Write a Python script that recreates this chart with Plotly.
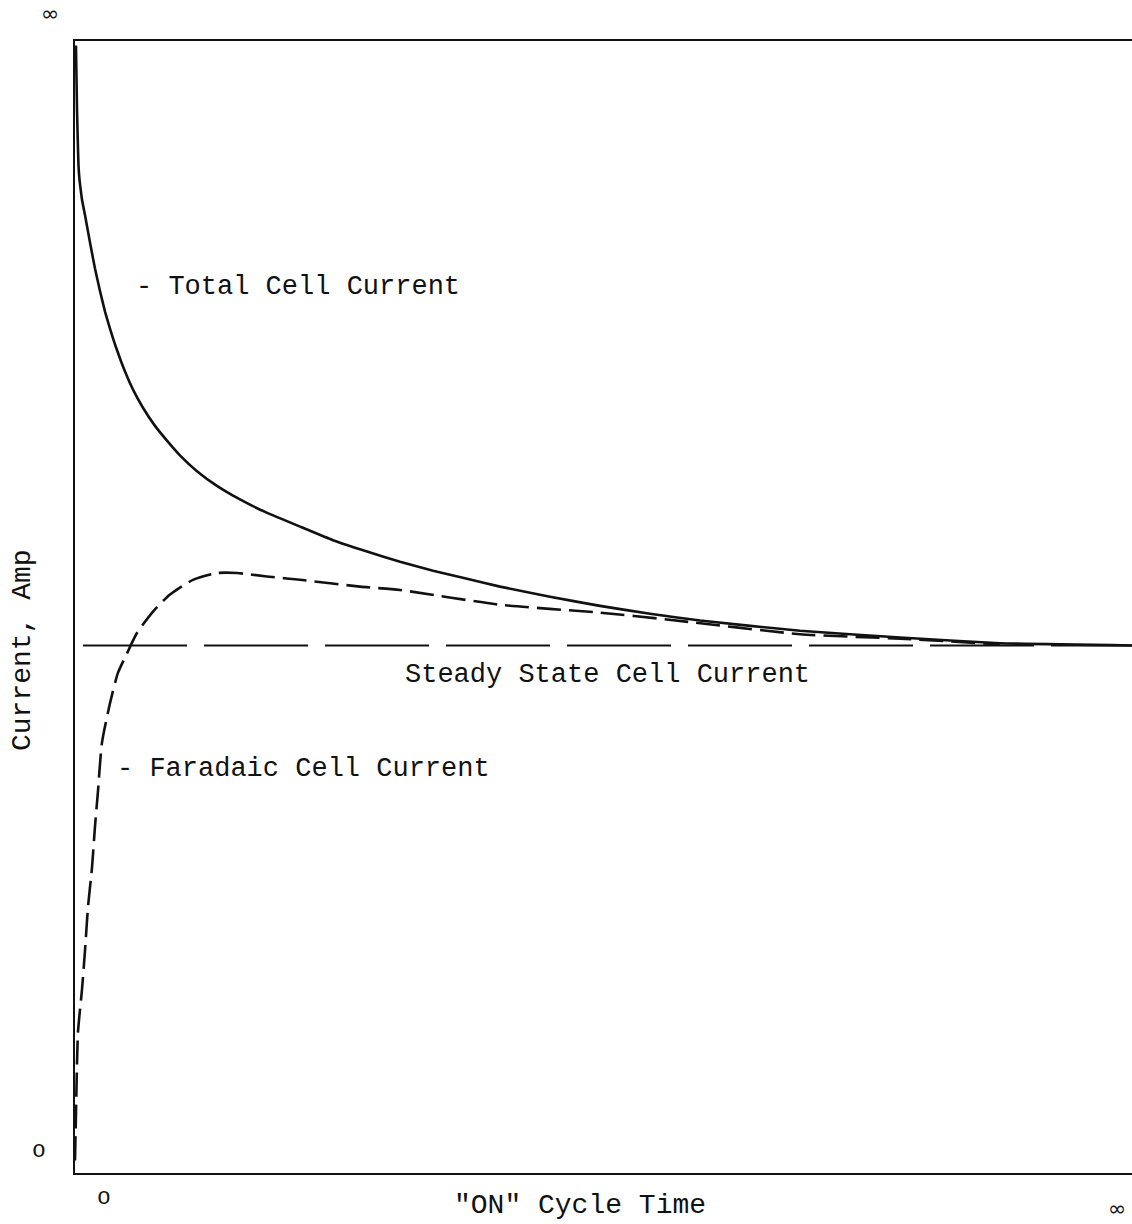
import plotly.graph_objects as go

# "ON" cycle time (arbitrary units, 0 at switch-on, 100 ~ long time)
total_time = [0.09, 0.19, 0.26, 0.33, 0.43, 0.52, 0.66, 0.95, 1.42, 1.89, 2.37,
              2.84, 3.31, 3.97, 4.73, 5.49, 6.43, 7.57, 8.70, 9.93, 11.54, 13.43,
              15.61, 17.98, 21.29, 24.41, 27.63, 30.75, 33.87, 37.09, 40.21, 44.94,
              49.67, 54.4, 59.13, 68.59, 78.05, 87.51, 100.0]
# Total cell current (arbitrary units, 0..100 full scale)
total_current = [99.6, 93.9, 91.3, 89.0, 87.7, 87.0, 86.0, 84.6, 82.2, 79.9, 77.9,
                 76.1, 74.6, 72.7, 70.8, 69.2, 67.6, 66.0, 64.7, 63.4, 62.0, 60.7,
                 59.5, 58.4, 57.1, 55.9, 54.9, 54.0, 53.2, 52.5, 51.8, 50.9,
                 50.1, 49.4, 48.8, 47.9, 47.3, 46.8, 46.6]

faradaic_time = [0.0, 0.1, 0.28, 0.66, 0.95, 1.23, 1.61, 1.89, 2.18, 2.55, 3.31,
                 4.07, 4.92, 5.86, 7.38, 8.99, 11.16, 13.43, 15.33, 18.16, 21.29,
                 26.96, 30.75, 40.2, 49.7, 56.0, 68.6, 78.1, 87.5]
faradaic_current = [1.1, 5.6, 12.4, 16.2, 19.7, 23.5, 27.0, 30.6, 33.8, 38.0, 41.5,
                    44.2, 45.9, 47.7, 49.6, 51.1, 52.4, 53.0, 53.0, 52.7, 52.4,
                    51.8, 51.5, 50.2, 49.5, 48.9, 47.6, 47.2, 46.7]

steady_time = [0.76, 100.0]
steady_current = 46.6

W, H = 1132, 1224
L, R, T, B = 75, 0, 41, 51
ink = "#111111"
mono = "Liberation Mono, DejaVu Sans Mono, monospace"

fig = go.Figure()

fig.add_trace(go.Scatter(
    x=steady_time, y=[steady_current] * len(steady_time), mode="lines",
    line=dict(color=ink, width=2.2, dash="104px,17px"), hoverinfo="skip"))

fig.add_trace(go.Scatter(
    x=total_time, y=total_current, mode="lines",
    line=dict(color=ink, width=2.6, shape="spline", smoothing=0.4), hoverinfo="skip"))

fig.add_trace(go.Scatter(
    x=faradaic_time, y=faradaic_current, mode="lines",
    line=dict(color=ink, width=2.6, shape="spline", smoothing=0.6, dash="24px,8px"),
    hoverinfo="skip"))


def px_to_paper(px, py):
    return (px - L) / (W - L - R), (H - B - py) / (H - T - B)


def label(text, px, py, size=27, xanchor="center", angle=0, font=mono):
    xp, yp = px_to_paper(px, py)
    fig.add_annotation(x=xp, y=yp, xref="paper", yref="paper", text=text,
                       showarrow=False, xanchor=xanchor, yanchor="middle",
                       textangle=angle, font=dict(family=font, size=size, color=ink))


label("- Total Cell Current", 134, 287, xanchor="left")
label("Steady State Cell Current", 403, 675, xanchor="left")
label("- Faradaic Cell Current", 115, 769, xanchor="left")
label('"ON" Cycle Time', 580, 1205, size=28)
label("Current, Amp", 22, 650, size=28, angle=-90)
label("o", 39, 1151, size=23)
label("o", 104, 1198, size=23)
label("∞", 50, 13, size=22, font="DejaVu Sans")
label("∞", 1117, 1208, size=22, font="DejaVu Sans")

fig.update_xaxes(range=[0, 100], showgrid=False, zeroline=False, showticklabels=False,
                 ticks="", showline=True, linecolor=ink, linewidth=2.2, mirror=True)
fig.update_yaxes(range=[0, 100], showgrid=False, zeroline=False, showticklabels=False,
                 ticks="", showline=True, linecolor=ink, linewidth=2.2)

fig.update_layout(width=W, height=H, margin=dict(l=L, r=R, t=T, b=B),
                  plot_bgcolor="white", paper_bgcolor="white", showlegend=False)

fig.write_html("out.html")
